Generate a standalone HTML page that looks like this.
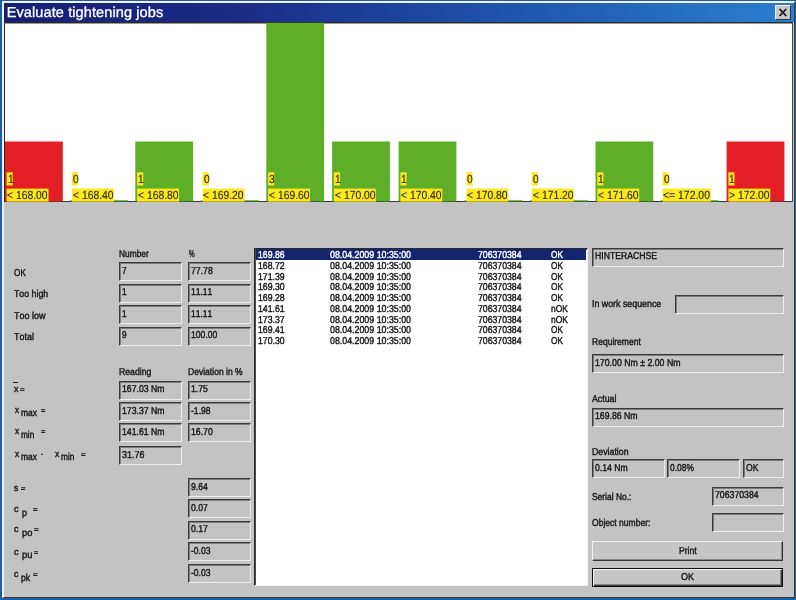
<!DOCTYPE html>
<html><head><meta charset="utf-8"><title>Evaluate tightening jobs</title>
<style>
html,body{margin:0;padding:0;}
body{width:796px;height:600px;overflow:hidden;background:#1c5ea8;position:relative;font-family:"Liberation Sans",sans-serif;font-size:10.3px;color:#141414;-webkit-text-stroke:0.4px #141414;font-kerning:none;text-rendering:geometricPrecision;}
div,span{position:absolute;box-sizing:border-box;white-space:nowrap;}
.t{transform-origin:0 0;}
#win{left:2px;top:1px;width:792.5px;height:596.7px;background:#c3c3c3;border-style:solid;border-width:2px 1px 1px 2px;border-color:#f2f2f4 #3a3a3a #3a3a3a #f2f2f4;}
#title{left:4px;top:3px;width:790px;height:19px;background:linear-gradient(90deg,#141f72 0%,#1a2c86 30%,#1f55ae 65%,#2a7fd0 100%);}
#close{left:774.5px;top:5px;width:16px;height:14.5px;background:#c8c8c8;border:1px solid;border-color:#f4f4f4 #333 #333 #f4f4f4;}
#chart{left:4px;top:22px;width:788.5px;height:180px;background:#fff;border:1px solid;border-color:#2a2a2a #444 #333 #2a2a2a;box-shadow:inset 0 1px 0 #999;}
.bar{width:57px;}
.r{background:#e31e24;}
.g{background:#5fae27;}
.yl{background:#ffe81a;}
.f{border:1px solid;border-color:#3a3a3a #efefef #efefef #3a3a3a;box-shadow:inset 1px 1px 0 #7c7c7c;background:#c3c3c3;}
#list{background:#fff;border:1px solid;border-color:#2a2a2a #f4f4f4 #f4f4f4 #2a2a2a;box-shadow:inset 1px 1px 0 #4a4a4a;}
.sel{background:#14246e;}
.btn{border:1px solid;border-color:#f2f2f2 #333 #333 #f2f2f2;box-shadow:inset -1px -1px 0 #888;background:#c6c6c6;}
.btnd{border:1px solid #111;box-shadow:inset 1px 1px 0 #f2f2f2,inset -1px -1px 0 #333,inset -2px -2px 0 #888;background:#c6c6c6;}
.ov{background:#222;}
.cl{color:#2a2a2a;-webkit-text-stroke:0.15px #2a2a2a;}
</style></head><body>
<div id="win"></div>
<div id="title"></div>
<div id="close"><svg width="14" height="12" viewBox="0 0 14 12" style="position:absolute;left:0;top:0"><path d="M3.6 3 L10.2 10 M10.2 3 L3.6 10" stroke="#111" stroke-width="1.8" fill="none"/></svg></div>
<div id="chart"></div>

<div class="t" style="left:6.70px;top:4px;font-size:14.5px;line-height:18px;color:#fff;-webkit-text-stroke:0.3px #fff;letter-spacing:0.109px">Evaluate tightening jobs</div>
<svg width="796" height="210" style="position:absolute;left:0;top:0"><rect x="5.0" y="141.5" width="57.8" height="59.9" fill="#e31e24"/><rect x="6.6" y="172.3" width="6.1" height="13.2" fill="#ffe81a"/><rect x="6.6" y="188.6" width="41.9" height="13" fill="#ffe81a"/><rect x="70.2" y="200.2" width="57.8" height="1.2" fill="#5fae27"/><rect x="72.0" y="172.3" width="6.1" height="13.2" fill="#ffe81a"/><rect x="72.0" y="188.6" width="41.9" height="13" fill="#ffe81a"/><rect x="135.3" y="141.5" width="57.8" height="59.9" fill="#5fae27"/><rect x="137.1" y="172.3" width="6.1" height="13.2" fill="#ffe81a"/><rect x="137.1" y="188.6" width="41.9" height="13" fill="#ffe81a"/><rect x="200.8" y="200.2" width="57.8" height="1.2" fill="#5fae27"/><rect x="202.6" y="172.3" width="6.1" height="13.2" fill="#ffe81a"/><rect x="202.6" y="188.6" width="41.9" height="13" fill="#ffe81a"/><rect x="266.3" y="22.8" width="57.8" height="178.6" fill="#5fae27"/><rect x="268.1" y="172.3" width="6.1" height="13.2" fill="#ffe81a"/><rect x="268.1" y="188.6" width="41.9" height="13" fill="#ffe81a"/><rect x="332.1" y="141.5" width="57.8" height="59.9" fill="#5fae27"/><rect x="333.9" y="172.3" width="6.1" height="13.2" fill="#ffe81a"/><rect x="333.9" y="188.6" width="41.9" height="13" fill="#ffe81a"/><rect x="398.6" y="141.5" width="57.8" height="59.9" fill="#5fae27"/><rect x="400.4" y="172.3" width="6.1" height="13.2" fill="#ffe81a"/><rect x="400.4" y="188.6" width="41.9" height="13" fill="#ffe81a"/><rect x="464.6" y="200.2" width="57.8" height="1.2" fill="#5fae27"/><rect x="466.4" y="172.3" width="6.1" height="13.2" fill="#ffe81a"/><rect x="466.4" y="188.6" width="41.9" height="13" fill="#ffe81a"/><rect x="530.0" y="200.2" width="57.8" height="1.2" fill="#5fae27"/><rect x="531.8" y="172.3" width="6.1" height="13.2" fill="#ffe81a"/><rect x="531.8" y="188.6" width="41.9" height="13" fill="#ffe81a"/><rect x="595.5" y="141.5" width="57.8" height="59.9" fill="#5fae27"/><rect x="597.3" y="172.3" width="6.1" height="13.2" fill="#ffe81a"/><rect x="597.3" y="188.6" width="41.9" height="13" fill="#ffe81a"/><rect x="660.8" y="200.2" width="57.8" height="1.2" fill="#5fae27"/><rect x="662.6" y="172.3" width="6.1" height="13.2" fill="#ffe81a"/><rect x="662.6" y="188.6" width="48.2" height="13" fill="#ffe81a"/><rect x="726.6" y="141.5" width="57.8" height="59.9" fill="#e31e24"/><rect x="728.4" y="172.3" width="6.1" height="13.2" fill="#ffe81a"/><rect x="728.4" y="188.6" width="41.9" height="13" fill="#ffe81a"/></svg>
<div class="t cl" style="left:7.50px;top:172px;font-size:11.8px;line-height:15px;transform:scaleX(0.8600)">1</div>
<div class="t cl" style="left:7.30px;top:188px;font-size:11.8px;line-height:15px;transform:scaleX(0.8759)">&lt; 168.00</div>
<div class="t cl" style="left:72.90px;top:172px;font-size:11.8px;line-height:15px;transform:scaleX(0.8600)">0</div>
<div class="t cl" style="left:72.70px;top:188px;font-size:11.8px;line-height:15px;transform:scaleX(0.8759)">&lt; 168.40</div>
<div class="t cl" style="left:138.00px;top:172px;font-size:11.8px;line-height:15px;transform:scaleX(0.8600)">1</div>
<div class="t cl" style="left:137.80px;top:188px;font-size:11.8px;line-height:15px;transform:scaleX(0.8759)">&lt; 168.80</div>
<div class="t cl" style="left:203.50px;top:172px;font-size:11.8px;line-height:15px;transform:scaleX(0.8600)">0</div>
<div class="t cl" style="left:203.30px;top:188px;font-size:11.8px;line-height:15px;transform:scaleX(0.8759)">&lt; 169.20</div>
<div class="t cl" style="left:269.00px;top:172px;font-size:11.8px;line-height:15px;transform:scaleX(0.8600)">3</div>
<div class="t cl" style="left:268.80px;top:188px;font-size:11.8px;line-height:15px;transform:scaleX(0.8759)">&lt; 169.60</div>
<div class="t cl" style="left:334.80px;top:172px;font-size:11.8px;line-height:15px;transform:scaleX(0.8600)">1</div>
<div class="t cl" style="left:334.60px;top:188px;font-size:11.8px;line-height:15px;transform:scaleX(0.8759)">&lt; 170.00</div>
<div class="t cl" style="left:401.30px;top:172px;font-size:11.8px;line-height:15px;transform:scaleX(0.8600)">1</div>
<div class="t cl" style="left:401.10px;top:188px;font-size:11.8px;line-height:15px;transform:scaleX(0.8759)">&lt; 170.40</div>
<div class="t cl" style="left:467.30px;top:172px;font-size:11.8px;line-height:15px;transform:scaleX(0.8600)">0</div>
<div class="t cl" style="left:467.10px;top:188px;font-size:11.8px;line-height:15px;transform:scaleX(0.8759)">&lt; 170.80</div>
<div class="t cl" style="left:532.70px;top:172px;font-size:11.8px;line-height:15px;transform:scaleX(0.8600)">0</div>
<div class="t cl" style="left:532.50px;top:188px;font-size:11.8px;line-height:15px;transform:scaleX(0.8759)">&lt; 171.20</div>
<div class="t cl" style="left:598.20px;top:172px;font-size:11.8px;line-height:15px;transform:scaleX(0.8600)">1</div>
<div class="t cl" style="left:598.00px;top:188px;font-size:11.8px;line-height:15px;transform:scaleX(0.8759)">&lt; 171.60</div>
<div class="t cl" style="left:663.50px;top:172px;font-size:11.8px;line-height:15px;transform:scaleX(0.8600)">0</div>
<div class="t cl" style="left:663.30px;top:188px;font-size:11.8px;line-height:15px;transform:scaleX(0.8832)">&lt;= 172.00</div>
<div class="t cl" style="left:729.30px;top:172px;font-size:11.8px;line-height:15px;transform:scaleX(0.8600)">1</div>
<div class="t cl" style="left:729.10px;top:188px;font-size:11.8px;line-height:15px;transform:scaleX(0.8759)">&gt; 172.00</div>
<div class="t " style="left:119.40px;top:248px;font-size:10px;line-height:13px;transform:scaleX(0.8365)">Number</div>
<div class="t " style="left:188.80px;top:248px;font-size:10px;line-height:13px;transform:scaleX(0.6310)">%</div>
<div class="f" style="left:119.0px;top:262.0px;width:63.0px;height:19.0px"></div>
<div class="f" style="left:188.0px;top:262.0px;width:63.0px;height:19.0px"></div>
<div class="t " style="left:13.90px;top:267px;font-size:10px;line-height:13px;transform:scaleX(0.8207)">OK</div>
<div class="t " style="left:121.50px;top:265px;font-size:10px;line-height:13px;transform:scaleX(0.8200)">7</div>
<div class="t " style="left:191.20px;top:265px;font-size:10px;line-height:13px;transform:scaleX(0.8680)">77.78</div>
<div class="f" style="left:119.0px;top:284.0px;width:63.0px;height:19.0px"></div>
<div class="f" style="left:188.0px;top:284.0px;width:63.0px;height:19.0px"></div>
<div class="t " style="left:14.20px;top:288px;font-size:10px;line-height:13px;transform:scaleX(0.8792)">Too high</div>
<div class="t " style="left:121.50px;top:286px;font-size:10px;line-height:13px;transform:scaleX(0.8200)">1</div>
<div class="t " style="left:191.20px;top:286px;font-size:10px;line-height:13px;transform:scaleX(0.8511)">11.11</div>
<div class="f" style="left:119.0px;top:305.0px;width:63.0px;height:19.0px"></div>
<div class="f" style="left:188.0px;top:305.0px;width:63.0px;height:19.0px"></div>
<div class="t " style="left:14.20px;top:310px;font-size:10px;line-height:13px;transform:scaleX(0.8971)">Too low</div>
<div class="t " style="left:121.50px;top:308px;font-size:10px;line-height:13px;transform:scaleX(0.8200)">1</div>
<div class="t " style="left:191.20px;top:308px;font-size:10px;line-height:13px;transform:scaleX(0.8511)">11.11</div>
<div class="f" style="left:119.0px;top:327.0px;width:63.0px;height:19.0px"></div>
<div class="f" style="left:188.0px;top:327.0px;width:63.0px;height:19.0px"></div>
<div class="t " style="left:14.20px;top:331px;font-size:10px;line-height:13px;transform:scaleX(0.8947)">Total</div>
<div class="t " style="left:121.50px;top:329px;font-size:10px;line-height:13px;transform:scaleX(0.8200)">9</div>
<div class="t " style="left:191.20px;top:329px;font-size:10px;line-height:13px;transform:scaleX(0.8620)">100.00</div>
<div class="t " style="left:119.40px;top:366px;font-size:10px;line-height:13px;transform:scaleX(0.8698)">Reading</div>
<div class="t " style="left:188.20px;top:366px;font-size:10px;line-height:13px;transform:scaleX(0.8548)">Deviation in %</div>
<div class="f" style="left:119.0px;top:381.0px;width:63.0px;height:19.0px"></div>
<div class="t " style="left:121.90px;top:383px;font-size:10px;line-height:13px;transform:scaleX(0.8675)">167.03 Nm</div>
<div class="f" style="left:188.0px;top:381.0px;width:63.0px;height:19.0px"></div>
<div class="t " style="left:191.00px;top:383px;font-size:10px;line-height:13px;transform:scaleX(0.8718)">1.75</div>
<div class="f" style="left:119.0px;top:402.0px;width:63.0px;height:19.0px"></div>
<div class="t " style="left:121.90px;top:405px;font-size:10px;line-height:13px;transform:scaleX(0.8675)">173.37 Nm</div>
<div class="f" style="left:188.0px;top:402.0px;width:63.0px;height:19.0px"></div>
<div class="t " style="left:190.60px;top:405px;font-size:10px;line-height:13px;transform:scaleX(0.8615)">-1.98</div>
<div class="f" style="left:119.0px;top:423.0px;width:63.0px;height:19.0px"></div>
<div class="t " style="left:121.90px;top:426px;font-size:10px;line-height:13px;transform:scaleX(0.8675)">141.61 Nm</div>
<div class="f" style="left:188.0px;top:423.0px;width:63.0px;height:19.0px"></div>
<div class="t " style="left:191.00px;top:426px;font-size:10px;line-height:13px;transform:scaleX(0.8680)">16.70</div>
<div class="f" style="left:119.0px;top:446.0px;width:63.0px;height:19.0px"></div>
<div class="t " style="left:121.90px;top:449px;font-size:10px;line-height:13px;transform:scaleX(0.8960)">31.76</div>
<div class="ov" style="left:13.2px;top:381.6px;width:4.6px;height:1.1px"></div>
<div class="t " style="left:13.80px;top:384px;font-size:9.6px;line-height:12px;transform:scaleX(0.9231)">x</div>
<div class="t " style="left:20.20px;top:386px;font-size:7px;line-height:9px;transform:scaleX(1.1152)">=</div>
<div class="t " style="left:14.70px;top:405px;font-size:9.6px;line-height:12px;transform:scaleX(0.8615)">x</div>
<div class="t " style="left:20.70px;top:407px;font-size:10px;line-height:13px;transform:scaleX(0.8477)">max</div>
<div class="t " style="left:40.70px;top:407px;font-size:7px;line-height:9px;transform:scaleX(1.0667)">=</div>
<div class="t " style="left:14.70px;top:426px;font-size:9.6px;line-height:12px;transform:scaleX(0.8615)">x</div>
<div class="t " style="left:20.70px;top:429px;font-size:10px;line-height:13px;transform:scaleX(0.8186)">min</div>
<div class="t " style="left:40.70px;top:428px;font-size:7px;line-height:9px;transform:scaleX(1.0667)">=</div>
<div class="t " style="left:14.70px;top:449px;font-size:9.6px;line-height:12px;transform:scaleX(0.8615)">x</div>
<div class="t " style="left:20.70px;top:451px;font-size:10px;line-height:13px;transform:scaleX(0.8477)">max</div>
<div class="t " style="left:41.30px;top:448px;font-size:10px;line-height:13px;transform:scaleX(0.5333)">-</div>
<div class="t " style="left:54.60px;top:449px;font-size:9.6px;line-height:12px;transform:scaleX(0.9026)">x</div>
<div class="t " style="left:60.90px;top:451px;font-size:10px;line-height:13px;transform:scaleX(0.8310)">min</div>
<div class="t " style="left:80.70px;top:451px;font-size:7px;line-height:9px;transform:scaleX(1.1152)">=</div>
<div class="f" style="left:188.0px;top:478.0px;width:63.0px;height:19.0px"></div>
<div class="t " style="left:190.60px;top:481px;font-size:10px;line-height:13px;transform:scaleX(0.8615)">9.64</div>
<div class="f" style="left:188.0px;top:499.0px;width:63.0px;height:19.0px"></div>
<div class="t " style="left:190.60px;top:502px;font-size:10px;line-height:13px;transform:scaleX(0.8615)">0.07</div>
<div class="f" style="left:188.0px;top:521.0px;width:63.0px;height:19.0px"></div>
<div class="t " style="left:190.60px;top:523px;font-size:10px;line-height:13px;transform:scaleX(0.8615)">0.17</div>
<div class="f" style="left:188.0px;top:542.0px;width:63.0px;height:19.0px"></div>
<div class="t " style="left:190.60px;top:545px;font-size:10px;line-height:13px;transform:scaleX(0.8527)">-0.03</div>
<div class="f" style="left:188.0px;top:564.0px;width:63.0px;height:19.0px"></div>
<div class="t " style="left:190.60px;top:567px;font-size:10px;line-height:13px;transform:scaleX(0.8527)">-0.03</div>
<div class="t " style="left:13.60px;top:483px;font-size:9.6px;line-height:12px;transform:scaleX(0.9026)">s</div>
<div class="t " style="left:20.60px;top:485px;font-size:7px;line-height:9px;transform:scaleX(1.0667)">=</div>
<div class="t " style="left:14.40px;top:504px;font-size:9.6px;line-height:12px;transform:scaleX(0.9436)">c</div>
<div class="t " style="left:21.60px;top:507px;font-size:10px;line-height:13px;transform:scaleX(0.8889)">p</div>
<div class="t " style="left:33.40px;top:506px;font-size:7px;line-height:9px;transform:scaleX(1.1152)">=</div>
<div class="t " style="left:14.40px;top:524px;font-size:9.6px;line-height:12px;transform:scaleX(0.9436)">c</div>
<div class="t " style="left:21.60px;top:527px;font-size:10px;line-height:13px;transform:scaleX(0.9348)">po</div>
<div class="t " style="left:34.40px;top:526px;font-size:7px;line-height:9px;transform:scaleX(1.1152)">=</div>
<div class="t " style="left:14.40px;top:547px;font-size:9.6px;line-height:12px;transform:scaleX(0.9436)">c</div>
<div class="t " style="left:21.60px;top:549px;font-size:10px;line-height:13px;transform:scaleX(0.9348)">pu</div>
<div class="t " style="left:34.00px;top:549px;font-size:7px;line-height:9px;transform:scaleX(1.0182)">=</div>
<div class="t " style="left:14.00px;top:569px;font-size:9.6px;line-height:12px;transform:scaleX(0.9026)">c</div>
<div class="t " style="left:21.00px;top:572px;font-size:10px;line-height:13px;transform:scaleX(0.8744)">pk</div>
<div class="t " style="left:33.40px;top:571px;font-size:7px;line-height:9px;transform:scaleX(1.1152)">=</div>
<div class="" id="list" style="left:254.0px;top:247.6px;width:333.5px;height:338.9px"></div>
<div class="sel" style="left:256.0px;top:249.0px;width:330.0px;height:11.0px"></div>
<div class="t " style="left:258.40px;top:249px;font-size:10px;line-height:13px;transform:scaleX(0.8686);color:#fff;-webkit-text-stroke-color:#fff">169.86</div>
<div class="t " style="left:329.90px;top:249px;font-size:10px;line-height:13px;transform:scaleX(0.8828);color:#fff;-webkit-text-stroke-color:#fff">08.04.2009 10:35:00</div>
<div class="t " style="left:477.80px;top:249px;font-size:10px;line-height:13px;transform:scaleX(0.8698);color:#fff;-webkit-text-stroke-color:#fff">706370384</div>
<div class="t " style="left:551.00px;top:249px;font-size:10px;line-height:13px;transform:scaleX(0.8276);color:#fff;-webkit-text-stroke-color:#fff">OK</div>
<div class="t " style="left:258.40px;top:260px;font-size:10px;line-height:13px;transform:scaleX(0.8686)">168.72</div>
<div class="t " style="left:329.90px;top:260px;font-size:10px;line-height:13px;transform:scaleX(0.8828)">08.04.2009 10:35:00</div>
<div class="t " style="left:477.80px;top:260px;font-size:10px;line-height:13px;transform:scaleX(0.8698)">706370384</div>
<div class="t " style="left:551.00px;top:260px;font-size:10px;line-height:13px;transform:scaleX(0.8276)">OK</div>
<div class="t " style="left:258.40px;top:271px;font-size:10px;line-height:13px;transform:scaleX(0.8686)">171.39</div>
<div class="t " style="left:329.90px;top:271px;font-size:10px;line-height:13px;transform:scaleX(0.8828)">08.04.2009 10:35:00</div>
<div class="t " style="left:477.80px;top:271px;font-size:10px;line-height:13px;transform:scaleX(0.8698)">706370384</div>
<div class="t " style="left:551.00px;top:271px;font-size:10px;line-height:13px;transform:scaleX(0.8276)">OK</div>
<div class="t " style="left:258.40px;top:281px;font-size:10px;line-height:13px;transform:scaleX(0.8686)">169.30</div>
<div class="t " style="left:329.90px;top:281px;font-size:10px;line-height:13px;transform:scaleX(0.8828)">08.04.2009 10:35:00</div>
<div class="t " style="left:477.80px;top:281px;font-size:10px;line-height:13px;transform:scaleX(0.8698)">706370384</div>
<div class="t " style="left:551.00px;top:281px;font-size:10px;line-height:13px;transform:scaleX(0.8276)">OK</div>
<div class="t " style="left:258.40px;top:292px;font-size:10px;line-height:13px;transform:scaleX(0.8686)">169.28</div>
<div class="t " style="left:329.90px;top:292px;font-size:10px;line-height:13px;transform:scaleX(0.8828)">08.04.2009 10:35:00</div>
<div class="t " style="left:477.80px;top:292px;font-size:10px;line-height:13px;transform:scaleX(0.8698)">706370384</div>
<div class="t " style="left:551.00px;top:292px;font-size:10px;line-height:13px;transform:scaleX(0.8276)">OK</div>
<div class="t " style="left:258.40px;top:303px;font-size:10px;line-height:13px;transform:scaleX(0.8686)">141.61</div>
<div class="t " style="left:329.90px;top:303px;font-size:10px;line-height:13px;transform:scaleX(0.8828)">08.04.2009 10:35:00</div>
<div class="t " style="left:477.80px;top:303px;font-size:10px;line-height:13px;transform:scaleX(0.8698)">706370384</div>
<div class="t " style="left:551.00px;top:303px;font-size:10px;line-height:13px;transform:scaleX(0.8500)">nOK</div>
<div class="t " style="left:258.40px;top:314px;font-size:10px;line-height:13px;transform:scaleX(0.8686)">173.37</div>
<div class="t " style="left:329.90px;top:314px;font-size:10px;line-height:13px;transform:scaleX(0.8828)">08.04.2009 10:35:00</div>
<div class="t " style="left:477.80px;top:314px;font-size:10px;line-height:13px;transform:scaleX(0.8698)">706370384</div>
<div class="t " style="left:551.00px;top:314px;font-size:10px;line-height:13px;transform:scaleX(0.8500)">nOK</div>
<div class="t " style="left:258.40px;top:324px;font-size:10px;line-height:13px;transform:scaleX(0.8686)">169.41</div>
<div class="t " style="left:329.90px;top:324px;font-size:10px;line-height:13px;transform:scaleX(0.8828)">08.04.2009 10:35:00</div>
<div class="t " style="left:477.80px;top:324px;font-size:10px;line-height:13px;transform:scaleX(0.8698)">706370384</div>
<div class="t " style="left:551.00px;top:324px;font-size:10px;line-height:13px;transform:scaleX(0.8276)">OK</div>
<div class="t " style="left:258.40px;top:335px;font-size:10px;line-height:13px;transform:scaleX(0.8686)">170.30</div>
<div class="t " style="left:329.90px;top:335px;font-size:10px;line-height:13px;transform:scaleX(0.8828)">08.04.2009 10:35:00</div>
<div class="t " style="left:477.80px;top:335px;font-size:10px;line-height:13px;transform:scaleX(0.8698)">706370384</div>
<div class="t " style="left:551.00px;top:335px;font-size:10px;line-height:13px;transform:scaleX(0.8276)">OK</div>
<div class="f" style="left:592.0px;top:248.0px;width:192.0px;height:19.0px"></div>
<div class="t " style="left:594.90px;top:250px;font-size:10px;line-height:13px;transform:scaleX(0.8642)">HINTERACHSE</div>
<div class="t " style="left:592.20px;top:298px;font-size:10px;line-height:13px;transform:scaleX(0.8829)">In work sequence</div>
<div class="f" style="left:675.0px;top:295.0px;width:109.0px;height:19.0px"></div>
<div class="t " style="left:592.20px;top:336px;font-size:10px;line-height:13px;transform:scaleX(0.8524)">Requirement</div>
<div class="f" style="left:592.0px;top:354.0px;width:192.0px;height:19.0px"></div>
<div class="t " style="left:594.90px;top:357px;font-size:10px;line-height:13px;transform:scaleX(0.8747)">170.00 Nm ± 2.00 Nm</div>
<div class="t " style="left:592.20px;top:393px;font-size:10px;line-height:13px;transform:scaleX(0.8793)">Actual</div>
<div class="f" style="left:592.0px;top:408.0px;width:192.0px;height:19.0px"></div>
<div class="t " style="left:594.90px;top:410px;font-size:10px;line-height:13px;transform:scaleX(0.8716)">169.86 Nm</div>
<div class="t " style="left:592.20px;top:446px;font-size:10px;line-height:13px;transform:scaleX(0.8766)">Deviation</div>
<div class="f" style="left:592.0px;top:459.0px;width:73.0px;height:19.0px"></div>
<div class="f" style="left:667.0px;top:459.0px;width:73.0px;height:19.0px"></div>
<div class="f" style="left:743.0px;top:459.0px;width:41.0px;height:19.0px"></div>
<div class="t " style="left:594.90px;top:462px;font-size:10px;line-height:13px;transform:scaleX(0.8636)">0.14 Nm</div>
<div class="t " style="left:670.10px;top:462px;font-size:10px;line-height:13px;transform:scaleX(0.8423)">0.08%</div>
<div class="t " style="left:746.10px;top:462px;font-size:10px;line-height:13px;transform:scaleX(0.8621)">OK</div>
<div class="t " style="left:592.20px;top:491px;font-size:10px;line-height:13px;transform:scaleX(0.8428)">Serial No.:</div>
<div class="f" style="left:712.0px;top:487.0px;width:72.0px;height:19.0px"></div>
<div class="t " style="left:714.90px;top:489px;font-size:10px;line-height:13px;transform:scaleX(0.8718)">706370384</div>
<div class="t " style="left:592.20px;top:517px;font-size:10px;line-height:13px;transform:scaleX(0.8541)">Object number:</div>
<div class="f" style="left:712.0px;top:513.0px;width:72.0px;height:19.0px"></div>
<div class="btn" style="left:591.6px;top:541.2px;width:191.9px;height:19.6px"></div>
<div class="t " style="left:679.00px;top:545px;font-size:10px;line-height:13px;transform:scaleX(0.8582)">Print</div>
<div class="btnd" style="left:591.6px;top:567.8px;width:191.9px;height:19.0px"></div>
<div class="t " style="left:681.00px;top:571px;font-size:10px;line-height:13px;transform:scaleX(0.8966)">OK</div>
</body></html>
